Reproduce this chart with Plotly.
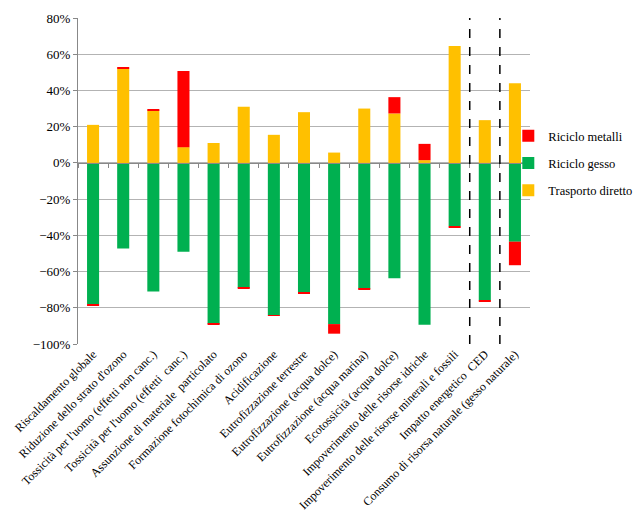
import plotly.graph_objects as go

categories = [
    "Riscaldamento globale",
    "Riduzione dello strato d'ozono",
    "Tossicità per l'uomo (effetti non canc.)",
    "Tossicità per l'uomo (effetti  canc.)",
    "Assunzione di materiale  particolato",
    "Formazione fotochimica di ozono",
    "Acidificazione",
    "Eutrofizzazione terrestre",
    "Eutrofizzazione (acqua dolce)",
    "Eutrofizzazione (acqua marina)",
    "Ecotossicità (acqua dolce)",
    "Impoverimento delle risorse idriche",
    "Impoverimento delle risorse minerali e fossili",
    "Impatto energetico  CED",
    "Consumo di risorsa naturale (gesso naturale)",
]
trasporto_diretto = [21, 52, 29, 8.7, 11, 31, 15.5, 28, 5.7, 30, 27.3, 1.5, 64.6, 23.6, 44]
riciclo_gesso = [-78, -47.3, -71, -49, -88.8, -69, -84, -71.5, -89, -69.5, -63.7, -89.4, -35, -76, -43.5]
riciclo_metalli = [-1.0, 0.8, 0.4, 42, -0.4, -0.5, -0.5, -0.6, -5.3, -0.5, 9, 9, -0.5, -0.5, -13]

yellow = "#FFC000"
green = "#00B050"
red = "#FF0000"
font_fam = "Liberation Serif, Times New Roman, Times, serif"

fig = go.Figure()
fig.add_trace(go.Bar(x=categories, y=trasporto_diretto, name="Trasporto diretto",
                     marker=dict(color=yellow, line=dict(width=0)), legendgroup="a", legendrank=3))
fig.add_trace(go.Bar(x=categories, y=riciclo_gesso, name="Riciclo gesso",
                     marker=dict(color=green, line=dict(width=0)), legendgroup="b", legendrank=2))
fig.add_trace(go.Bar(x=categories, y=riciclo_metalli, name="Riciclo metalli",
                     marker=dict(color=red, line=dict(width=0)), legendgroup="c", legendrank=1))
# invisible helper trace for the axis line drawn at zero
fig.add_trace(go.Scatter(x=categories, y=[0] * len(categories), xaxis="x2", mode="markers",
                         marker=dict(opacity=0), showlegend=False, hoverinfo="skip"))

ymin, ymax = -100, 80
zero_pos = (0 - ymin) / (ymax - ymin)

for b in (12.5, 13.5):
    fig.add_shape(type="line", xref="x", yref="y", x0=b, x1=b, y0=ymin, y1=ymax,
                  line=dict(color="black", width=1.5, dash="dash"))

fig.update_layout(
    width=634, height=520,
    margin=dict(l=70, r=112, t=10, b=184, autoexpand=False),
    barmode="relative",
    bargap=0.6,
    plot_bgcolor="white",
    paper_bgcolor="white",
    font=dict(family=font_fam, size=13, color="black"),
    showlegend=True,
    legend=dict(x=0.952, y=0.684, xanchor="left", yanchor="top",
                traceorder="grouped", tracegroupgap=8,
                font=dict(family=font_fam, size=12.5, color="black"),
                itemwidth=30, bgcolor="rgba(0,0,0,0)"),
    xaxis=dict(
        type="category", range=[-0.5, 14.5], automargin=False,
        tickangle=-45, tickfont=dict(family=font_fam, size=12, color="black"),
        showgrid=False, showline=False, ticks="", zeroline=False,
    ),
    xaxis2=dict(
        type="category", overlaying="x", matches="x", anchor="free", position=zero_pos,
        side="bottom", showticklabels=False, showline=True, linecolor="#888888", linewidth=1,
        ticks="outside", tickson="boundaries", ticklen=4, tickcolor="#888888",
        showgrid=False, zeroline=False, automargin=False,
    ),
    yaxis=dict(
        range=[ymin, ymax], dtick=20, ticksuffix="%", automargin=False,
        tickfont=dict(family=font_fam, size=13, color="black"),
        showgrid=True, gridcolor="#B3B3B3", gridwidth=1,
        showline=True, linecolor="#888888", linewidth=1,
        ticks="outside", ticklen=4, tickcolor="#888888",
        zeroline=False,
    ),
)

fig.write_html("out.html")
